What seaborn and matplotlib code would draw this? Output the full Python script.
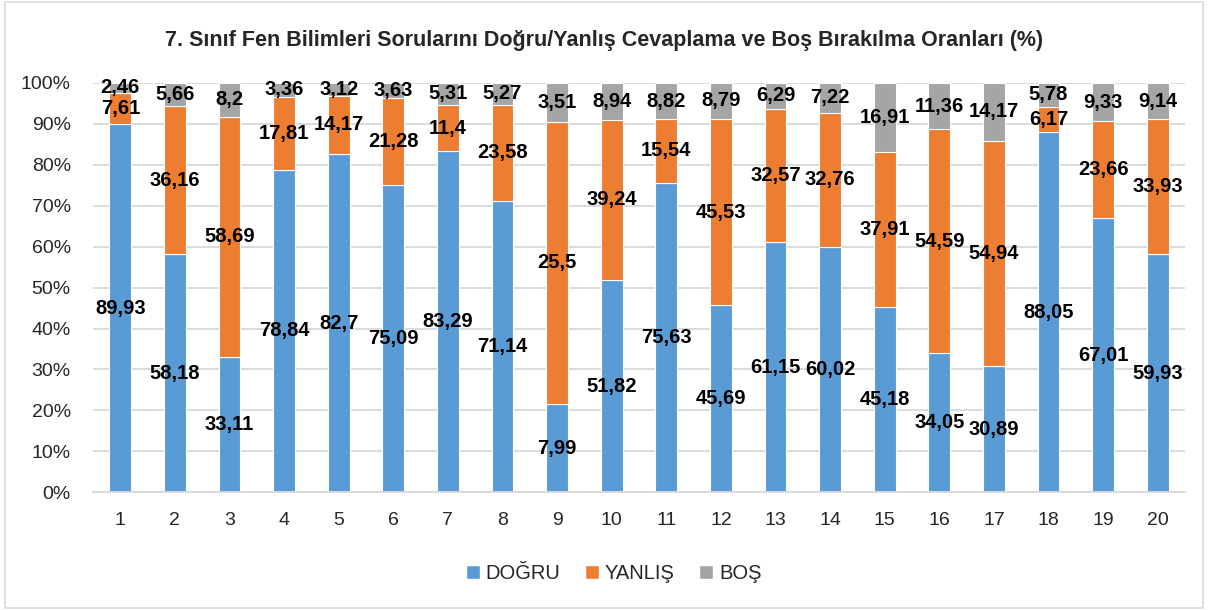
import numpy as np
import pandas as pd
import matplotlib
matplotlib.use("Agg")
import matplotlib.pyplot as plt
from matplotlib.patches import Patch, Rectangle
import seaborn as sns

# Question numbers and answer rates (%) per question
questions = [str(i) for i in range(1, 21)]
dogru = [89.93, 58.18, 33.11, 78.84, 82.7, 75.09, 83.29, 71.14, 7.99, 51.82,
         75.63, 45.69, 61.15, 60.02, 45.18, 34.05, 30.89, 88.05, 67.01, 59.93]
yanlis = [7.61, 36.16, 58.69, 17.81, 14.17, 21.28, 11.4, 23.58, 25.5, 39.24,
          15.54, 45.53, 32.57, 32.76, 37.91, 54.59, 54.94, 6.17, 23.66, 33.93]
bos = [2.46, 5.66, 8.2, 3.36, 3.12, 3.63, 5.31, 5.27, 3.51, 8.94,
       8.82, 8.79, 6.29, 7.22, 16.91, 11.36, 14.17, 5.78, 9.33, 9.14]
series_names = ["DOĞRU", "YANLIŞ", "BOŞ"]
colors = ["#5B9BD5", "#ED7D31", "#A5A5A5"]
title = "7. Sınıf Fen Bilimleri Sorularını Doğru/Yanlış Cevaplama ve Boş Bırakılma Oranları (%)"

sns.set_theme(style="white")
plt.rcParams["font.family"] = ["Liberation Sans", "DejaVu Sans"]

raw = np.array([dogru, yanlis, bos], dtype=float)
share = raw / raw.sum(axis=0) * 100  # 100% stacked shares

df = pd.DataFrame({"question": questions})
for name, vals in zip(series_names, share):
    df[name] = vals

fig = plt.figure(figsize=(12.08, 6.10), dpi=100)
ax = fig.add_axes([0.077, 0.193, 0.904, 0.671])

bottom = np.zeros(len(questions))
for name, col, vals, rvals in zip(series_names, colors, share, raw):
    sns.barplot(data=df, x="question", y=name, color=col, width=0.4,
                bottom=bottom, ax=ax, saturation=1, linewidth=0.8,
                edgecolor="white")
    for i, (b, h, r) in enumerate(zip(bottom, vals, rvals)):
        ax.text(i, b + h / 2, f"{r:g}".replace(".", ","), ha="center",
                va="center", fontsize=14.5, fontweight="bold",
                color="black")
    bottom = bottom + vals

ax.set_ylim(0, 100)
ax.set_xlim(-0.5, len(questions) - 0.5)
ax.set_yticks(np.arange(0, 101, 10))
ax.set_yticklabels([f"{t}%" for t in range(0, 101, 10)], fontsize=14)
ax.tick_params(axis="x", labelsize=14, pad=14, length=0)
ax.tick_params(axis="y", pad=16, length=0)
ax.set_xlabel("")
ax.set_ylabel("")
ax.grid(axis="y", color="#D9D9D9", linewidth=1.3)
ax.set_axisbelow(True)
for s in ["left", "right", "top"]:
    ax.spines[s].set_visible(False)
ax.spines["bottom"].set_color("#D9D9D9")
ax.spines["bottom"].set_linewidth(1.3)

fig.text(0.5, 0.934, title, ha="center", va="center", fontsize=15.5,
         fontweight="bold")

handles = [Patch(facecolor=c, label=n) for n, c in zip(series_names, colors)]
fig.legend(handles=handles, loc="center", bbox_to_anchor=(0.508, 0.06), ncol=3,
           frameon=False, fontsize=14.5, handlelength=0.7, handleheight=0.7,
           handletextpad=0.3, columnspacing=1.2)

fig.patches.append(Rectangle((0.004, 0.004), 0.992, 0.992, transform=fig.transFigure,
                             fill=False, edgecolor="#D9D9D9", linewidth=1.2))

fig.savefig("out.png", dpi=100)
